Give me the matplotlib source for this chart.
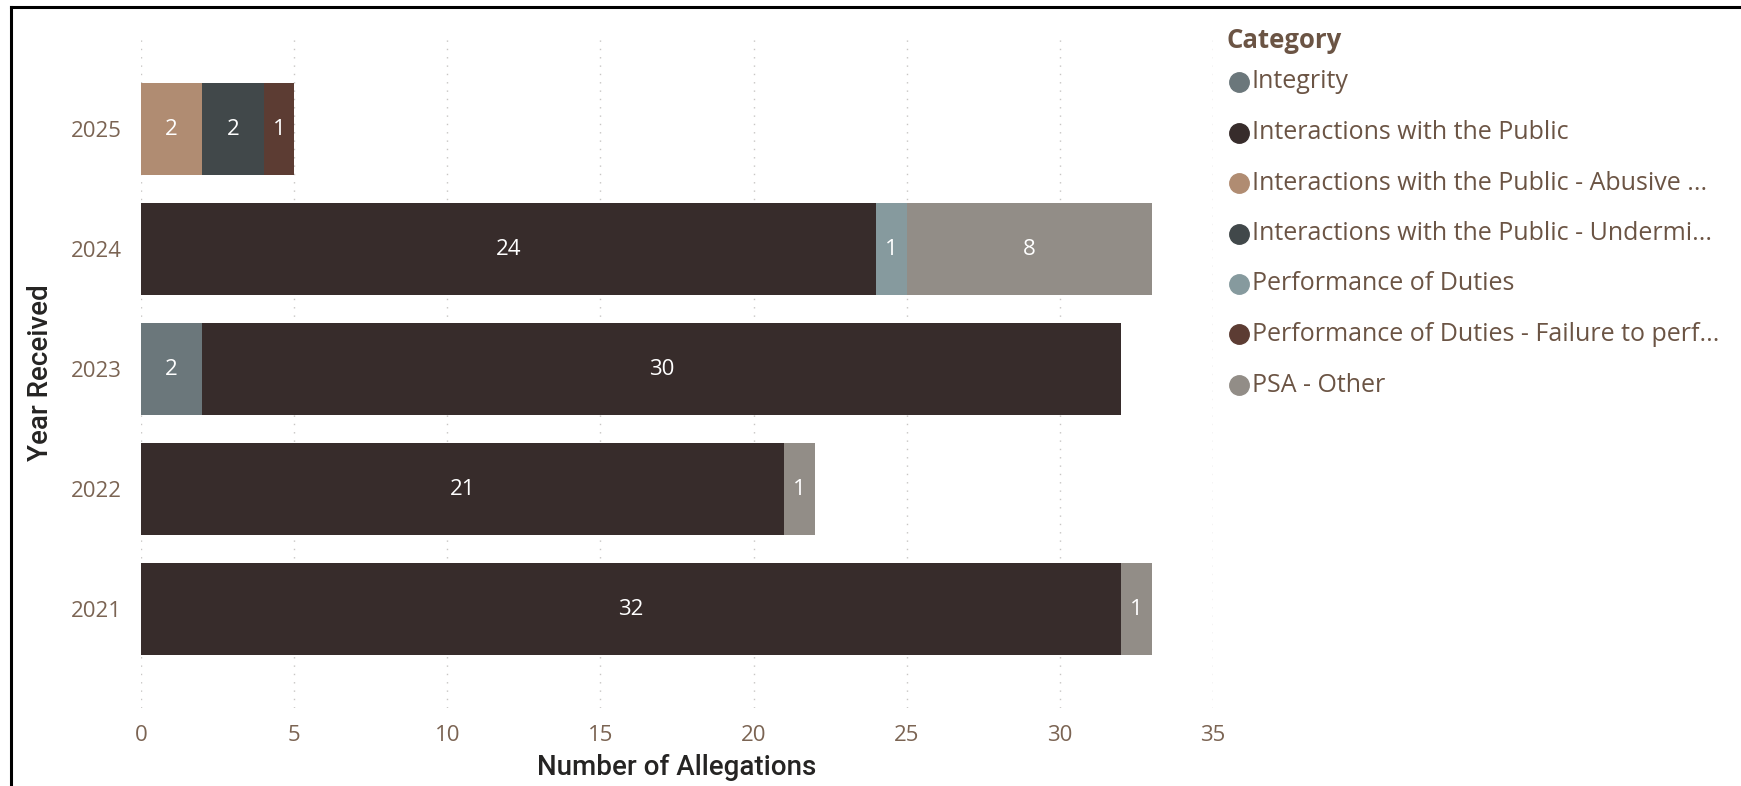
import matplotlib
matplotlib.use("Agg")
import matplotlib.pyplot as plt
from matplotlib.lines import Line2D
import numpy as np

years = ["2021", "2022", "2023", "2024", "2025"]
categories = [
    "Integrity",
    "Interactions with the Public",
    "Interactions with the Public - Abusive ...",
    "Interactions with the Public - Undermi...",
    "Performance of Duties",
    "Performance of Duties - Failure to perf...",
    "PSA - Other",
]
colors = ["#6b777b", "#372c2b", "#b08c72", "#41484a", "#869a9e", "#5c3c33", "#928d87"]

# counts per category, one value per year (2021..2025)
integrity = [0, 0, 2, 0, 0]
public = [32, 21, 30, 24, 0]
public_abusive = [0, 0, 0, 0, 2]
public_undermining = [0, 0, 0, 0, 2]
duties = [0, 0, 0, 1, 0]
duties_failure = [0, 0, 0, 0, 1]
psa_other = [1, 1, 0, 8, 0]
series = [integrity, public, public_abusive, public_undermining, duties, duties_failure, psa_other]

W, H = 1741, 786
fig = plt.figure(figsize=(W / 100, H / 100), dpi=100)
fig.patch.set_facecolor("white")

left, right, top, bottom = 141, 1213, 37, 708
ax = fig.add_axes([left / W, 1 - bottom / H, (right - left) / W, (bottom - top) / H])

font = "Open Sans"
tick_color = "#7b6453"
title_color = "#252423"

y = np.arange(len(years))
base = np.zeros(len(years))
for name, vals, col in zip(categories, series, colors):
    vals = np.array(vals, dtype=float)
    bars = ax.barh(y, vals, left=base, height=0.77, color=col, zorder=2)
    for b, v in zip(bars, vals):
        if v > 0:
            ax.text(b.get_x() + b.get_width() / 2, b.get_y() + b.get_height() / 2,
                    f"{int(v)}", ha="center", va="center", color="white",
                    fontsize=16, family=font, zorder=3)
    base += vals

ax.set_xlim(0, 35)
ax.set_ylim(-0.825, 4.767)
ax.set_xticks(range(0, 36, 5))
ax.set_yticks(y)
ax.set_yticklabels(years)
ax.tick_params(length=0, colors=tick_color, labelsize=16)
ax.tick_params(axis="x", pad=12)
ax.tick_params(axis="y", pad=14)
for lbl in ax.get_xticklabels() + ax.get_yticklabels():
    lbl.set_family(font)
ax.grid(axis="x", color="#c8c6c4", linestyle=(0, (1, 5)), linewidth=1, zorder=0)
for s in ax.spines.values():
    s.set_visible(False)

ax.set_xlabel("Number of Allegations", fontsize=20, color=title_color,
              family="Roboto", fontweight="medium", labelpad=6)
ax.set_ylabel("Year Received", fontsize=20, color=title_color,
              family="Roboto", fontweight="medium", labelpad=12)

# legend drawn by hand at fixed pixel positions
legend_color = "#6b5444"
fig.text(1226 / W, 1 - 40 / H, "Category", fontsize=18.5, fontweight="bold",
         color=legend_color, family=font, va="center", ha="left")
for i, (name, col) in enumerate(zip(categories, colors)):
    yy = 1 - (82 + i * 50.5) / H
    fig.add_artist(Line2D([1239 / W], [yy], marker="o", markersize=14,
                          color=col, linestyle="none", transform=fig.transFigure))
    fig.text(1252 / W, yy, name, fontsize=18, color=legend_color, family=font,
             va="center", ha="left")

# frame lines along the top and left edges
fig.add_artist(Line2D([11 / W, 11 / W], [0, 1 - 7 / H], color="black", linewidth=2.2,
                      transform=fig.transFigure))
fig.add_artist(Line2D([11 / W, 1], [1 - 7 / H, 1 - 7 / H], color="black", linewidth=2.2,
                      transform=fig.transFigure))

fig.savefig("out.png", dpi=100)
